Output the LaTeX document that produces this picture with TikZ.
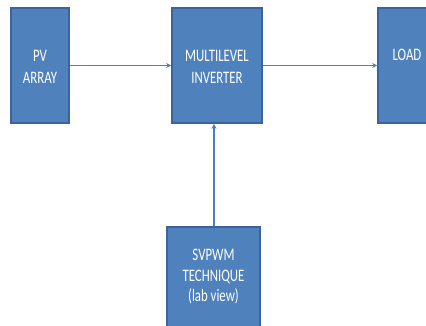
\documentclass[tikz,border=0pt]{standalone}
\usepackage{fontspec}
\setmainfont{Carlito}
\usetikzlibrary{arrows.meta}
\definecolor{boxfill}{HTML}{4F81BD}
\definecolor{boxline}{HTML}{3A63A0}
\definecolor{arrcol}{HTML}{4A7EBF}
\newcommand{\stk}[1]{\scalebox{0.95}[1.3]{\begin{tabular}{@{}c@{}}#1\end{tabular}}}
\begin{document}
\begin{tikzpicture}[x=1pt,y=-1pt,
  blk/.style={draw=boxline,fill=boxfill,line width=1.6pt,inner sep=0pt,
    text=white,font=\fontsize{13.5}{17}\selectfont},
  lbl/.style={text=white,font=\fontsize{13.5}{17}\selectfont},
  conn/.style={draw=arrcol,line width=1.3pt,-{Stealth[length=5pt,width=5pt]}}]
\useasboundingbox (0,0) rectangle (426,325);
\clip (0,0) rectangle (426,325);
\node[blk,minimum width=58pt,minimum height=115pt] (pv) at (40,65.5) {};
\node[blk,minimum width=90pt,minimum height=115pt] (mli) at (217,65.5) {};
\node[blk,minimum width=58pt,minimum height=115pt] (load) at (407,65.5) {};
\node[blk,minimum width=93pt,minimum height=100pt] (sv) at (213.5,277) {};
\node[lbl] (pvt) at (40,68) {\stk{PV\\ARRAY}};
\node[lbl] (mlit) at (217,68) {\stk{MULTILEVEL\\INVERTER}};
\node[lbl] (loadt) at (407,56) {\stk{LOAD}};
\node[lbl,font=\fontsize{13.5}{16}\selectfont] (svt) at (213.5,277) {\stk{SVPWM\\TECHNIQUE\\(lab view)}};
\draw[conn] (pv.east) -- (mli.west);
\draw[conn] (mli.east) -- (load.west);
\draw[conn] ([xshift=0.5pt]sv.north) -- ([xshift=0.5pt]sv.north |- mli.south);
\end{tikzpicture}
\end{document}
